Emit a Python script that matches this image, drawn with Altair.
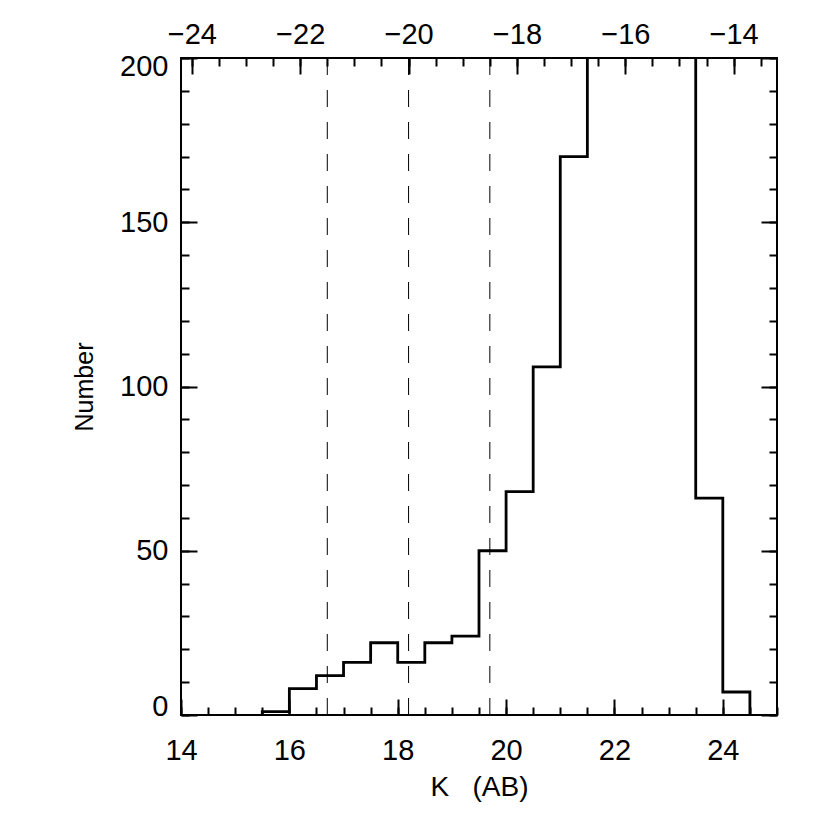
import altair as alt
import pandas as pd

# Histogram of K (AB) magnitudes, bin width 0.5
bin_left = [15.5, 16.0, 16.5, 17.0, 17.5, 18.0, 18.5, 19.0, 19.5, 20.0,
            20.5, 21.0, 21.5, 22.0, 22.5, 23.0, 23.5, 24.0]
# bins 21.5-23.5 run off the top of the plot (values above 200)
counts = [1, 8, 12, 16, 22, 16, 22, 24, 50, 68,
          106, 170, 400, 400, 400, 400, 66, 7]
last_edge = 24.5

# Dashed reference lines in absolute magnitude (top axis)
abs_mag_lines = [-21.5, -20.0, -18.5]

# Axis tick values
k_major = [14, 16, 18, 20, 22, 24]
k_minor = [14 + 0.5 * i for i in range(23)]
m_major = [-24, -22, -20, -18, -16, -14]
m_minor = [-24 + 0.5 * i for i in range(22)]
n_major = [0, 50, 100, 150, 200]
n_minor = [10 * i for i in range(21)]

k_domain = [14, 25]
m_domain = [-24.2, -13.2]
n_domain = [0, 200]

xs = [bin_left[0]] + bin_left + [last_edge]
ys = [0] + counts + [0]
hist = pd.DataFrame({"K": xs, "N": ys, "o": list(range(len(xs)))})
lines = pd.DataFrame({"M": abs_mag_lines})

FONT = "Liberation Sans"
kscale = alt.Scale(domain=k_domain, nice=False, zero=False)
mscale = alt.Scale(domain=m_domain, nice=False, zero=False)
nscale = alt.Scale(domain=n_domain, nice=False, zero=False)

common = dict(grid=False, domain=False, tickColor="black", tickWidth=2,
              labelColor="black", labelFont=FONT, labelFontSize=29,
              labelOverlap=False, titleColor="black",
              titleFont=FONT, titleFontWeight="normal")


def major(orient, values, labels=True, title=None, flush=False, **kw):
    d = dict(common)
    d.update(kw)
    d["title"] = title if title is not None else None
    return alt.Axis(orient=orient, values=values, tickSize=16, offset=-16,
                    labels=labels, labelFlush=flush, **d)


def minor(orient, values):
    d = dict(common)
    return alt.Axis(orient=orient, values=values, tickSize=8, offset=-8,
                    labels=False, title=None, **d)


hist_line = alt.Chart(hist).mark_line(
    interpolate="step-after", color="black", strokeWidth=2.8, clip=True
).encode(
    x=alt.X("K:Q", scale=kscale,
            axis=major("bottom", k_major, title="K\u00a0\u00a0\u00a0(AB)",
                       labelPadding=21, titleFontSize=28, titlePadding=8)),
    y=alt.Y("N:Q", scale=nscale,
            axis=major("left", n_major, title="Number", flush=True,
                       labelFlushOffset=6, labelPadding=13,
                       titleFontSize=25, titlePadding=22)),
    order="o:O",
)

minor_bl = alt.Chart(hist).mark_point(opacity=0).encode(
    x=alt.X("K:Q", scale=kscale, axis=minor("bottom", k_minor)),
    y=alt.Y("N:Q", scale=nscale, axis=minor("left", n_minor)),
)

right_major = alt.Chart(hist).mark_point(opacity=0).encode(
    x=alt.X("K:Q", scale=kscale, axis=None),
    y=alt.Y("N:Q", scale=nscale, axis=major("right", n_major, labels=False)),
)
right_minor = alt.Chart(hist).mark_point(opacity=0).encode(
    x=alt.X("K:Q", scale=kscale, axis=None),
    y=alt.Y("N:Q", scale=nscale, axis=minor("right", n_minor)),
)

dashed = alt.Chart(lines).mark_rule(
    color="black", strokeWidth=1, strokeDash=[17, 15]
).encode(
    x=alt.X("M:Q", scale=mscale,
            axis=major("top", m_major, labelPadding=9)),
)

top_minor = alt.Chart(lines).mark_rule(opacity=0).encode(
    x=alt.X("M:Q", scale=mscale, axis=minor("top", m_minor)),
)

chart = alt.layer(
    hist_line, minor_bl, right_major, right_minor, dashed, top_minor
).resolve_scale(
    x="independent", y="shared"
).resolve_axis(
    x="independent", y="independent"
).properties(
    width=596, height=657, autosize="none",
    padding={"left": 173, "top": 50, "right": 45, "bottom": 100},
    background="white",
).configure_view(
    stroke="black", strokeWidth=2
)

chart.save("out.html", embed_options={"renderer": "svg", "actions": False})
